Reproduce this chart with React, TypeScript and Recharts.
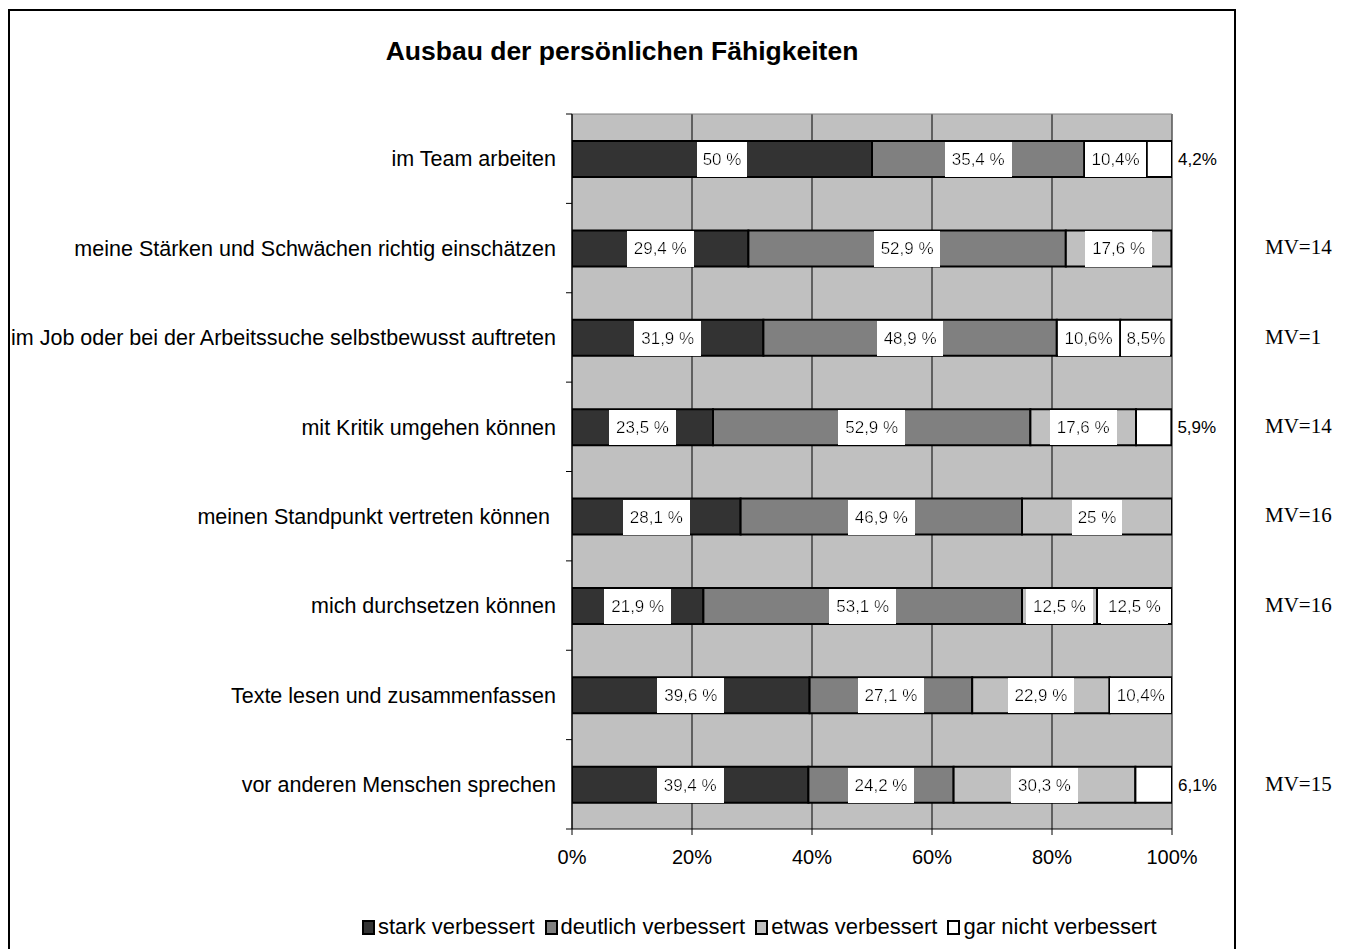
import { Bar, BarChart, CartesianGrid, LabelList, Legend, XAxis, YAxis } from 'recharts'

// Werte (Anteile in %)
const categories = [
  'im Team arbeiten',
  'meine Stärken und Schwächen richtig einschätzen',
  'im Job oder bei der Arbeitssuche selbstbewusst auftreten',
  'mit Kritik umgehen können',
  'meinen Standpunkt vertreten können\u00a0',
  'mich durchsetzen können',
  'Texte lesen und zusammenfassen',
  'vor anderen Menschen sprechen',
]
const stark = [50, 29.4, 31.9, 23.5, 28.1, 21.9, 39.6, 39.4]
const deutlich = [35.4, 52.9, 48.9, 52.9, 46.9, 53.1, 27.1, 24.2]
const etwas = [10.4, 17.6, 10.6, 17.6, 25, 12.5, 22.9, 30.3]
const garNicht = [4.2, 0, 8.5, 5.9, 0, 12.5, 10.4, 6.1]

const starkLabels = ['50 %', '29,4 %', '31,9 %', '23,5 %', '28,1 %', '21,9 %', '39,6 %', '39,4 %']
const deutlichLabels = ['35,4 %', '52,9 %', '48,9 %', '52,9 %', '46,9 %', '53,1 %', '27,1 %', '24,2 %']
const etwasLabels = ['10,4%', '17,6 %', '10,6%', '17,6 %', '25 %', '12,5 %', '22,9 %', '30,3 %']
const garNichtLabels = ['4,2%', '', '8,5%', '5,9%', '', '12,5 %', '10,4%', '6,1%']
const mvLabels = ['', 'MV=14', 'MV=1', 'MV=14', 'MV=16', 'MV=16', '', 'MV=15']

const seriesNames = ['stark verbessert', 'deutlich verbessert', 'etwas verbessert', 'gar nicht verbessert']
const seriesColors = ['#333333', '#808080', '#c0c0c0', '#ffffff']
const xTicks = [0, 20, 40, 60, 80, 100]

const rows = categories.map((name, i) => ({
  name,
  stark: stark[i],
  deutlich: deutlich[i],
  etwas: etwas[i],
  garNicht: garNicht[i],
  starkLabel: starkLabels[i],
  deutlichLabel: deutlichLabels[i],
  etwasLabel: etwasLabels[i],
  garNichtLabel: garNichtLabels[i],
}))

const FONT = "Arial, 'Liberation Sans', sans-serif"
const W = 1347
const H = 949
const MARGIN = { top: 114, right: 175, bottom: 80, left: 0 }
const X_AXIS_H = 40
const PLOT_H = H - MARGIN.top - MARGIN.bottom - X_AXIS_H
const band = PLOT_H / categories.length

function CategoryTick(props: any) {
  const { x, y, payload, index } = props
  const axisX = x + 16
  const mv = mvLabels[index]
  return (
    <g>
      <text x={x} y={y} dy="0.36em" textAnchor="end" fontSize={21.5} fill="#000" fontFamily={FONT}>
        {payload.value}
      </text>
      <line x1={axisX - 6} x2={axisX} y1={y - band / 2} y2={y - band / 2} stroke="#000" />
      {index === categories.length - 1 && (
        <line x1={axisX - 6} x2={axisX} y1={y + band / 2} y2={y + band / 2} stroke="#000" />
      )}
      {mv && (
        <text x={1265} y={y} dy="0.3em" fontSize={21} fill="#000" fontFamily="'Liberation Serif', 'Times New Roman', serif">
          {mv}
        </text>
      )}
    </g>
  )
}

// Beschriftung im weißen Kästchen; was nicht ins Segment passt, steht rechts daneben
function SegmentLabel(p: any) {
  const { x, y, width, height, value } = p
  if (!value) return null
  const outside = width < 45
  return (
    <text
      x={outside ? x + width + 6 : x + width / 2}
      y={y + height / 2}
      dy="0.36em"
      textAnchor={outside ? 'start' : 'middle'}
      fontSize={17}
      fill="#000"
      fontFamily={FONT}
      filter={outside ? undefined : 'url(#whiteBox)'}
    >
      {value}
    </text>
  )
}

function LegendContent() {
  return (
    <div style={{ display: 'flex', alignItems: 'center', fontFamily: FONT, fontSize: 22, whiteSpace: 'nowrap' }}>
      {seriesNames.map((n, i) => (
        <div key={n} style={{ display: 'flex', alignItems: 'center', marginRight: 10 }}>
          <span
            style={{
              width: 9,
              height: 11,
              border: '2px solid #000',
              background: seriesColors[i],
              marginRight: 3,
              display: 'inline-block',
            }}
          />
          {n}
        </div>
      ))}
    </div>
  )
}

export default function App() {
  return (
    <div style={{ position: 'fixed', left: 0, top: 0, width: W, height: H, overflow: 'hidden', background: '#fff' }}>
      <div
        style={{
          position: 'absolute',
          left: 8,
          top: 9,
          width: 1228,
          height: 1000,
          border: '2px solid #000',
          boxSizing: 'border-box',
        }}
      />
      <div
        style={{
          position: 'absolute',
          left: 8,
          width: 1228,
          top: 36,
          textAlign: 'center',
          fontFamily: FONT,
          fontWeight: 'bold',
          fontSize: 26.5,
        }}
      >
        Ausbau der persönlichen Fähigkeiten
      </div>
      <div style={{ position: 'absolute', left: 0, top: 0 }}>
        <BarChart width={W} height={H} data={rows} layout="vertical" margin={MARGIN} barSize={36}>
          <defs>
            <filter id="whiteBox" x="-0.12" y="-0.4" width="1.24" height="1.8">
              <feFlood floodColor="#fff" />
              <feComposite in="SourceGraphic" operator="over" />
            </filter>
          </defs>
          <CartesianGrid fill="#c0c0c0" stroke="#000" horizontal={false} />
          <CartesianGrid
            stroke="#808080"
            horizontalCoordinatesGenerator={({ offset }: any) => [offset.top]}
            verticalCoordinatesGenerator={({ offset }: any) => [offset.left + offset.width]}
          />
          <XAxis
            type="number"
            domain={[0, 100]}
            ticks={xTicks}
            allowDataOverflow
            tickFormatter={(v) => `${v}%`}
            height={X_AXIS_H}
            tickSize={6}
            tickMargin={15}
            axisLine={{ stroke: '#000' }}
            tickLine={{ stroke: '#000' }}
            tick={{ fontSize: 20, fill: '#000', fontFamily: FONT }}
          />
          <YAxis
            type="category"
            dataKey="name"
            width={MARGIN.left + 572}
            interval={0}
            tickSize={6}
            tickMargin={10}
            tickLine={false}
            axisLine={{ stroke: '#000' }}
            tick={<CategoryTick />}
          />
          <Legend
            verticalAlign="middle"
            align="center"
            layout="horizontal"
            wrapperStyle={{ top: 914, left: 362, width: 840 }}
            content={<LegendContent />}
          />
          <Bar dataKey="stark" name={seriesNames[0]} stackId="a" fill={seriesColors[0]} stroke="#000" strokeWidth={2} isAnimationActive={false}>
            <LabelList dataKey="starkLabel" content={<SegmentLabel />} />
          </Bar>
          <Bar dataKey="deutlich" name={seriesNames[1]} stackId="a" fill={seriesColors[1]} stroke="#000" strokeWidth={2} isAnimationActive={false}>
            <LabelList dataKey="deutlichLabel" content={<SegmentLabel />} />
          </Bar>
          <Bar dataKey="etwas" name={seriesNames[2]} stackId="a" fill={seriesColors[2]} stroke="#000" strokeWidth={2} isAnimationActive={false}>
            <LabelList dataKey="etwasLabel" content={<SegmentLabel />} />
          </Bar>
          <Bar dataKey="garNicht" name={seriesNames[3]} stackId="a" fill={seriesColors[3]} stroke="#000" strokeWidth={2} isAnimationActive={false}>
            <LabelList dataKey="garNichtLabel" content={<SegmentLabel />} />
          </Bar>
        </BarChart>
      </div>
    </div>
  )
}
